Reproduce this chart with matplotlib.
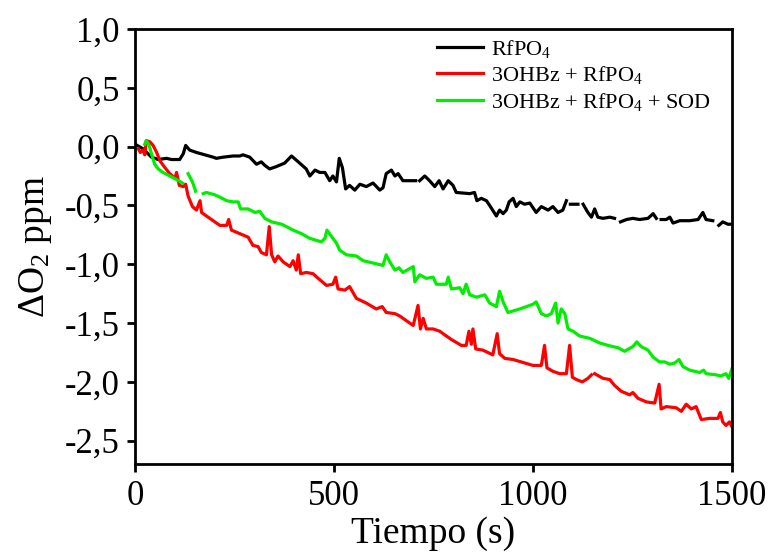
import numpy as np
import matplotlib
matplotlib.use("Agg")
import matplotlib.pyplot as plt

plt.rcParams['font.family'] = ['Liberation Serif', 'DejaVu Serif']
plt.rcParams['mathtext.fontset'] = 'custom'
plt.rcParams['mathtext.rm'] = 'Liberation Serif'
plt.rcParams['mathtext.it'] = 'Liberation Serif:italic'

nan = np.nan

# RfPO4 (black); nan marks gaps in the recorded trace
black_t = [5, 20, 41, 58, 79, 91, 112, 121, 127, 137, 154, 175, 196, 204, 221, 246, 263, 271,
           288, 305, 317, 326, 338, 355, 376, 393, 410, 430, 439, 452, 464, 477, 489, 497,
           506, 513, 521, 529, 539, 552, 565, 581, 598, 615, 623, 631, 644, 653, 661, 673,
           705, 710, 715, 728, 740, 753, 764, 774, 787, 799, 807, 841, 853, 859, 870, 883,
           891, 908, 916, 925, 933, 940, 950, 958, 967, 979, 992, 1000, 1008, 1021, 1038,
           1050, 1063, 1075, 1084, 1090, 1094, 1113, 1120, 1126, 1138, 1147, 1155, 1163,
           1176, 1193, 1205, 1212, 1220, 1235, 1251, 1268, 1289, 1302, 1310, 1316, 1322,
           1335, 1344, 1352, 1369, 1394, 1415, 1427, 1435, 1452, 1460, 1467, 1477, 1490, 1497]
black_y = [0.01, -0.02, -0.09, -0.11, -0.10, -0.11, -0.11, -0.06, 0.01, -0.03, -0.05, -0.07,
           -0.09, -0.10, -0.09, -0.08, -0.08, -0.07, -0.09, -0.15, -0.13, -0.16, -0.19, -0.17,
           -0.14, -0.08, -0.13, -0.19, -0.25, -0.20, -0.22, -0.22, -0.29, -0.25, -0.30, -0.10,
           -0.18, -0.36, -0.33, -0.37, -0.32, -0.34, -0.31, -0.37, -0.35, -0.23, -0.20, -0.25,
           -0.23, -0.29, -0.29, nan, -0.29, -0.25, -0.29, -0.34, -0.29, -0.36, -0.29, -0.33,
           -0.39, -0.40, -0.39, -0.46, -0.44, -0.46, -0.50, -0.59, -0.54, -0.57, -0.54, -0.47,
           -0.44, -0.51, -0.47, -0.49, -0.48, -0.52, -0.56, -0.51, -0.54, -0.51, -0.56, -0.54,
           -0.46, nan, -0.49, -0.49, nan, -0.49, -0.56, -0.60, -0.53, -0.60, -0.61, -0.60,
           -0.61, nan, -0.64, -0.62, -0.61, -0.62, -0.61, -0.57, -0.61, nan, -0.62, -0.62,
           -0.60, -0.65, -0.63, -0.63, -0.62, -0.56, -0.62, -0.63, nan, -0.67, -0.64, -0.66,
           -0.66]

# 3OHBz + RfPO4 (red)
red_t = [8, 13, 20, 24, 28, 37, 45, 54, 62, 75, 87, 100, 104, 111, 121, 127, 133, 144, 154,
         163, 167, 175, 196, 213, 230, 235, 242, 263, 284, 296, 309, 317, 330, 337, 343, 351,
         359, 372, 389, 397, 405, 410, 416, 430, 447, 460, 481, 497, 504, 510, 527, 539, 556,
         581, 606, 621, 631, 653, 665, 686, 699, 711, 717, 724, 732, 749, 766, 778, 795, 820,
         832, 839, 845, 849, 856, 874, 899, 910, 916, 929, 950, 1000, 1021, 1029, 1035, 1050,
         1067, 1084, 1092, 1099, 1109, 1124, 1138, 1147, 1151, 1155, 1176, 1193, 1205, 1222,
         1243, 1251, 1264, 1285, 1306, 1317, 1322, 1335, 1360, 1373, 1385, 1398, 1410, 1423,
         1444, 1465, 1471, 1477, 1485, 1494, 1500]
red_y = [-0.02, -0.05, -0.03, -0.07, 0.05, 0.04, 0.01, -0.05, -0.12, -0.18, -0.23, -0.27,
         -0.22, -0.33, -0.34, -0.32, -0.42, -0.51, -0.54, -0.46, -0.56, -0.58, -0.63, -0.67,
         -0.67, -0.62, -0.71, -0.74, -0.77, -0.84, -0.85, -0.90, -0.92, -0.68, -0.92, -0.98,
         -0.93, -0.98, -1.02, -0.97, -1.05, -0.92, -1.08, -1.07, -1.08, -1.12, -1.18, -1.17,
         -1.11, -1.21, -1.22, -1.19, -1.29, -1.33, -1.38, -1.36, -1.41, -1.42, -1.44, -1.49,
         -1.52, -1.35, -1.55, -1.46, -1.55, -1.55, -1.57, -1.60, -1.64, -1.69, -1.69, -1.57,
         -1.68, -1.55, -1.72, -1.73, -1.77, -1.59, -1.76, -1.80, -1.81, -1.86, -1.86, -1.69,
         -1.88, -1.91, -1.93, -1.93, -1.69, -1.96, -1.98, -2.00, -1.97, -1.94, nan, -1.93,
         -1.97, -1.98, -2.03, -2.08, -2.11, -2.09, -2.14, -2.17, -2.18, -2.02, -2.23, -2.21,
         -2.22, -2.25, -2.19, -2.23, -2.21, -2.32, -2.31, -2.31, -2.26, -2.34, -2.37, -2.34,
         -2.38]

# 3OHBz + RfPO4 + SOD (green)
green_t = [24, 28, 35, 41, 49, 58, 70, 87, 104, 119, 126, 133, 144, 152, 162, 171, 179, 200,
           213, 230, 246, 259, 265, 284, 301, 313, 326, 343, 368, 380, 397, 418, 439, 468, 477,
           482, 497, 506, 514, 531, 556, 573, 598, 623, 631, 640, 653, 663, 673, 699, 703, 715,
           732, 749, 757, 782, 787, 795, 816, 824, 832, 841, 858, 879, 891, 908, 916, 925, 937,
           967, 1000, 1008, 1021, 1034, 1046, 1057, 1063, 1071, 1080, 1088, 1101, 1117, 1143,
           1168, 1189, 1201, 1214, 1230, 1251, 1261, 1272, 1289, 1302, 1318, 1331, 1344, 1356,
           1367, 1377, 1394, 1419, 1429, 1435, 1460, 1472, 1485, 1492, 1500]
green_y = [0.02, 0.05, 0.01, -0.06, -0.15, -0.19, -0.22, -0.25, -0.28, -0.31, nan, -0.23,
           -0.30, -0.38, nan, -0.40, -0.39, -0.41, -0.43, -0.46, -0.47, -0.47, -0.53, -0.53,
           -0.56, -0.55, -0.61, -0.64, -0.66, -0.68, -0.71, -0.74, -0.78, -0.81, -0.78, -0.71,
           -0.78, -0.82, -0.88, -0.92, -0.93, -0.97, -0.99, -1.01, -0.92, -0.98, -1.05, -1.03,
           -1.07, -1.02, -1.15, -1.09, -1.12, -1.11, -1.17, -1.17, -1.11, -1.21, -1.20, -1.25,
           -1.17, -1.26, -1.28, -1.26, -1.33, -1.36, -1.23, -1.32, -1.41, -1.38, -1.34, -1.32,
           -1.42, -1.44, -1.42, -1.33, -1.50, -1.38, -1.42, -1.55, -1.57, -1.61, -1.63, -1.67,
           -1.69, -1.70, -1.71, -1.74, -1.70, -1.66, -1.70, -1.73, -1.79, -1.83, -1.83, -1.85,
           -1.84, -1.81, -1.87, -1.90, -1.92, -1.90, -1.93, -1.94, -1.95, -1.93, -1.97, -1.89]

labels = ['RfPO$_4$', '3OHBz + RfPO$_4$', '3OHBz + RfPO$_4$ + SOD']
colors = ['black', 'red', '#00ee00']

yticks = [1.0, 0.5, 0.0, -0.5, -1.0, -1.5, -2.0, -2.5]
ytick_labels = ['1,0', '0,5', '0,0', '-0,5', '-1,0', '-1,5', '-2,0', '-2,5']
xticks = [0, 500, 1000, 1500]

fig = plt.figure(figsize=(7.68, 5.56), dpi=100)
ax = fig.add_subplot(111)
fig.subplots_adjust(left=0.176, right=0.953, bottom=0.165, top=0.948)

for t, y, c, lab in zip([black_t, red_t, green_t], [black_y, red_y, green_y], colors, labels):
    ax.plot(t, y, color=c, lw=2.3, label=lab)

ax.set_xlim(0, 1500)
ax.set_ylim(-2.7, 1.0)
ax.set_xticks(xticks)
ax.set_yticks(yticks)
ax.set_yticklabels(ytick_labels)
ax.tick_params(direction='out', length=6, width=2, labelsize=25, pad=5)
for s in ax.spines.values():
    s.set_linewidth(2)

ax.set_xlabel('Tiempo (s)', fontsize=27, labelpad=3)
ax.set_ylabel('ΔO$_2$ ppm', fontsize=27, labelpad=8)

ax.legend(loc='upper left', bbox_to_anchor=(0.505, 0.98), frameon=False, fontsize=16,
          handlelength=2.1, handletextpad=0.35, labelspacing=0.2, borderpad=0, borderaxespad=0)

fig.savefig('out.png', dpi=100)
